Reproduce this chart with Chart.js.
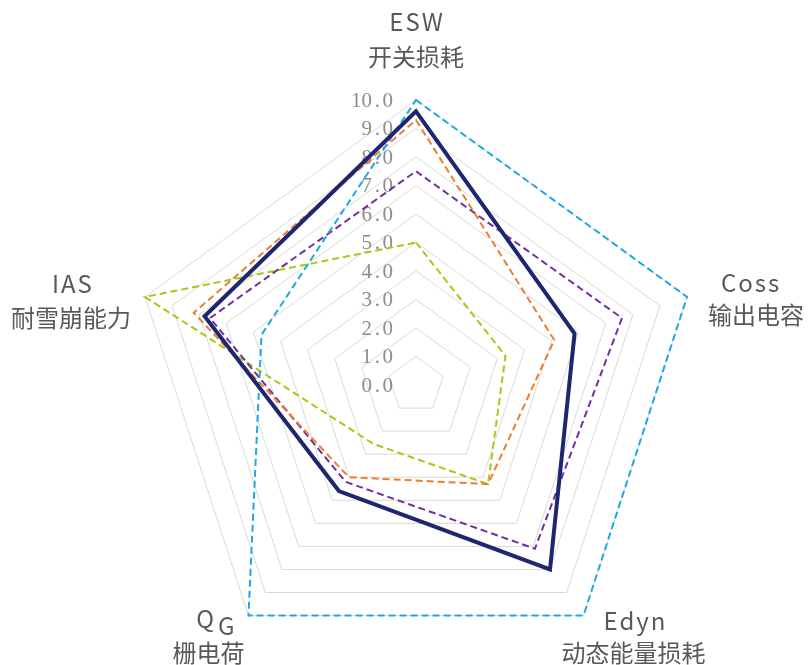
<!DOCTYPE html>
<html>
<head>
<meta charset="utf-8">
<script src="https://cdn.jsdelivr.net/npm/chart.js@4.4.1/dist/chart.umd.min.js"></script>
<style>
  html, body { margin: 0; padding: 0; background: #fff; overflow: hidden; }
</style>
</head>
<body>
<canvas id="radar" width="808" height="680"></canvas>
<script>
// axes (two-line labels: symbol + chinese name)
const axisSymbols = ["ESW", "Coss", "Edyn", "QG", "IAS"];
const axisNamesCn = ["开关损耗", "输出电容", "动态能量损耗", "栅电荷", "耐雪崩能力"];

// series values
const navySeries   = [9.6, 5.85, 8.0, 4.6, 7.8];
const blueSeries   = [10, 10, 10, 10, 5.7];
const orangeSeries = [9.3, 5.1, 4.3, 4.0, 8.2];
const purpleSeries = [7.5, 7.6, 7.1, 4.2, 7.6];
const greenSeries  = [5.0, 3.3, 4.3, 2.55, 10];

// value axis
const tickMin = 0;
const tickMax = 10;
const tickStep = 1;

// label placement relative to each outer vertex: [line1 dx,dy], [line2 dx,dy]
const labelOffsets = [
  [[0, -78], [0, -43]],
  [[63, -14], [69, 18]],
  [[51, 5], [50, 37]],
  [[-32, 5], [-40, 37]],
  [[-73, -13], [-74, 21]]
];

const tickLabelsPlugin = {
  id: "tickLabels",
  beforeDatasetsDraw(chart) {
    const scale = chart.scales.r;
    const ctx = chart.ctx;
    const cell = 10.5;
    ctx.save();
    ctx.font = '21px "Liberation Serif"';
    ctx.fillStyle = "#8c8c8c";
    ctx.textAlign = "center";
    ctx.textBaseline = "middle";
    scale.ticks.forEach(t => {
      const txt = t.value.toFixed(1);
      const y = scale.yCenter - scale.getDistanceFromCenterForValue(t.value);
      const right = scale.xCenter - 23;
      const start = right - txt.length * cell;
      for (let i = 0; i < txt.length; i++) {
        ctx.fillText(txt[i], start + (i + 0.5) * cell, y + 1);
      }
    });
    ctx.restore();
  }
};

const axisLabelsPlugin = {
  id: "axisLabels",
  afterDraw(chart) {
    const scale = chart.scales.r;
    const ctx = chart.ctx;
    ctx.save();
    ctx.font = '24px "Noto Sans CJK SC"';
    ctx.fillStyle = "#595959";
    ctx.textBaseline = "middle";
    axisSymbols.forEach((sym, i) => {
      const p = scale.getPointPosition(i, scale.drawingArea);
      const o = labelOffsets[i];
      const x1 = p.x + o[0][0], y1 = p.y + o[0][1];
      ctx.letterSpacing = "2px";
      if (sym === "QG") {
        const wq = ctx.measureText("Q").width;
        const wg = ctx.measureText("G").width;
        const sx = x1 - (wq + 2 + wg) / 2;
        ctx.textAlign = "left";
        ctx.fillText("Q", sx, y1 - 2);
        ctx.fillText("G", sx + wq + 2, y1 + 5);
      } else {
        ctx.textAlign = "center";
        ctx.fillText(sym, x1 + 1, y1);
      }
      ctx.letterSpacing = "0px";
      ctx.textAlign = "center";
      ctx.fillText(axisNamesCn[i], p.x + o[1][0], p.y + o[1][1]);
    });
    ctx.restore();
  }
};

function dashed(data, color) {
  return {
    data: data,
    borderColor: color,
    borderWidth: 2,
    borderDash: [7, 4],
    fill: false,
    pointRadius: 0
  };
}

new Chart(document.getElementById("radar"), {
  type: "radar",
  data: {
    labels: axisSymbols,
    datasets: [
      {
        data: navySeries,
        borderColor: "#1f2670",
        borderWidth: 4,
        fill: false,
        pointRadius: 0
      },
      dashed(blueSeries, "#1ea7e1"),
      dashed(orangeSeries, "#ed7d31"),
      dashed(purpleSeries, "#7030a0"),
      dashed(greenSeries, "#a5c914")
    ]
  },
  options: {
    responsive: false,
    animation: false,
    layout: {
      padding: { left: 131, right: 107, top: 100, bottom: 10 }
    },
    plugins: {
      legend: { display: false },
      tooltip: { enabled: false }
    },
    elements: {
      line: { tension: 0, borderJoinStyle: "miter" }
    },
    scales: {
      r: {
        min: tickMin,
        max: tickMax,
        ticks: { stepSize: tickStep, display: false },
        grid: { color: "#d9d9d9", lineWidth: 1 },
        angleLines: { display: false },
        pointLabels: { display: false }
      }
    }
  },
  plugins: [tickLabelsPlugin, axisLabelsPlugin]
});
</script>
</body>
</html>
